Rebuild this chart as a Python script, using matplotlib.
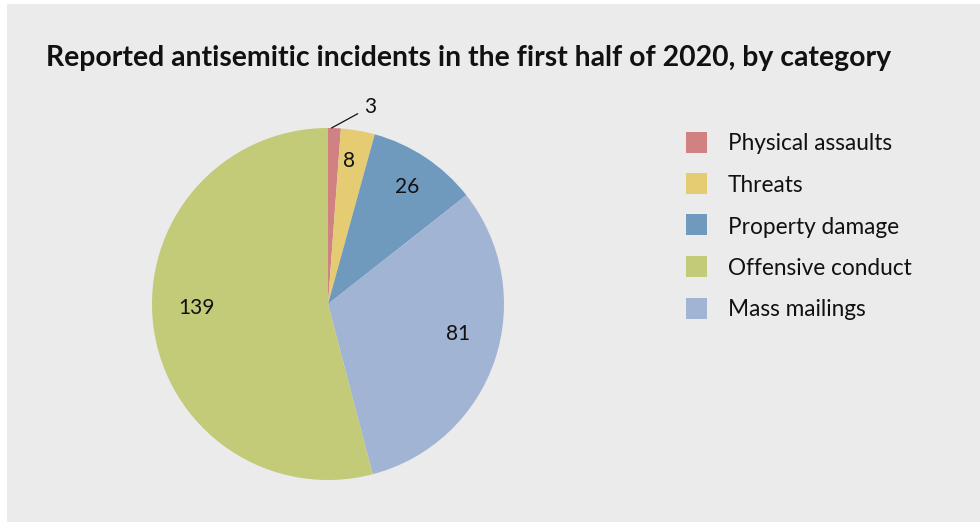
import matplotlib
matplotlib.use("Agg")
import matplotlib.pyplot as plt
from matplotlib.patches import Rectangle

plt.rcParams['font.family'] = ['Lato', 'DejaVu Sans']

categories = ['Physical assaults', 'Threats', 'Property damage', 'Mass mailings', 'Offensive conduct']
counts = [3, 8, 26, 81, 139]
colors = ['#D08282', '#E5CC73', '#7099BE', '#A2B4D3', '#C3CA78']
legend_order = ['Physical assaults', 'Threats', 'Property damage', 'Offensive conduct', 'Mass mailings']

# where each count sits, in pie radius units
label_xy = [(0.24, 1.12), (0.12, 0.81), (0.45, 0.665), (0.74, -0.17), (-0.75, -0.023)]

W, H = 980, 522
fig = plt.figure(figsize=(W / 100, H / 100), dpi=100)
fig.patch.set_facecolor('white')
# grey panel behind everything
fig.add_artist(Rectangle((7 / W, 0), 1 - 7 / W, 1 - 4 / H, transform=fig.transFigure,
                         facecolor='#EBEBEB', edgecolor='none', zorder=0))

fig.text(46 / W, 1 - 66 / H, 'Reported antisemitic incidents in the first half of 2020, by category',
         fontsize=20.4, fontweight='bold', va='baseline', ha='left', color='#111111')

cx, cy, r = 328, 304, 176
ax = fig.add_axes([(cx - r) / W, (H - cy - r) / H, 2 * r / W, 2 * r / H])
ax.set_facecolor('none')
wedges, _ = ax.pie(counts, colors=colors, startangle=90, counterclock=False,
                   wedgeprops=dict(linewidth=0))
ax.set_xlim(-1, 1)
ax.set_ylim(-1, 1)
ax.axis('off')

for w, val, (lx, ly) in zip(wedges, counts, label_xy):
    if val == min(counts):
        # tiny slice: label outside with a leader line
        ax.annotate(str(val), xy=(0.02, 1.0), xytext=(lx, ly), fontsize=15,
                    ha='center', va='center', color='#111111',
                    arrowprops=dict(arrowstyle='-', color='#111111', lw=0.9,
                                    shrinkA=3, shrinkB=0))
    else:
        ax.text(lx, ly, str(val), fontsize=15, ha='center', va='center', color='#111111')

# legend drawn as swatches + text
for i, name in enumerate(legend_order):
    y = 142 + i * 41.5
    col = colors[categories.index(name)]
    fig.add_artist(Rectangle((686 / W, 1 - (y + 10.5) / H), 21 / W, 21 / H,
                             transform=fig.transFigure, facecolor=col, edgecolor='none'))
    fig.text(728 / W, 1 - (y + 8.5) / H, name, fontsize=16.3, va='baseline', ha='left',
             color='#111111')

fig.savefig('out.png', dpi=100, facecolor=fig.get_facecolor())
